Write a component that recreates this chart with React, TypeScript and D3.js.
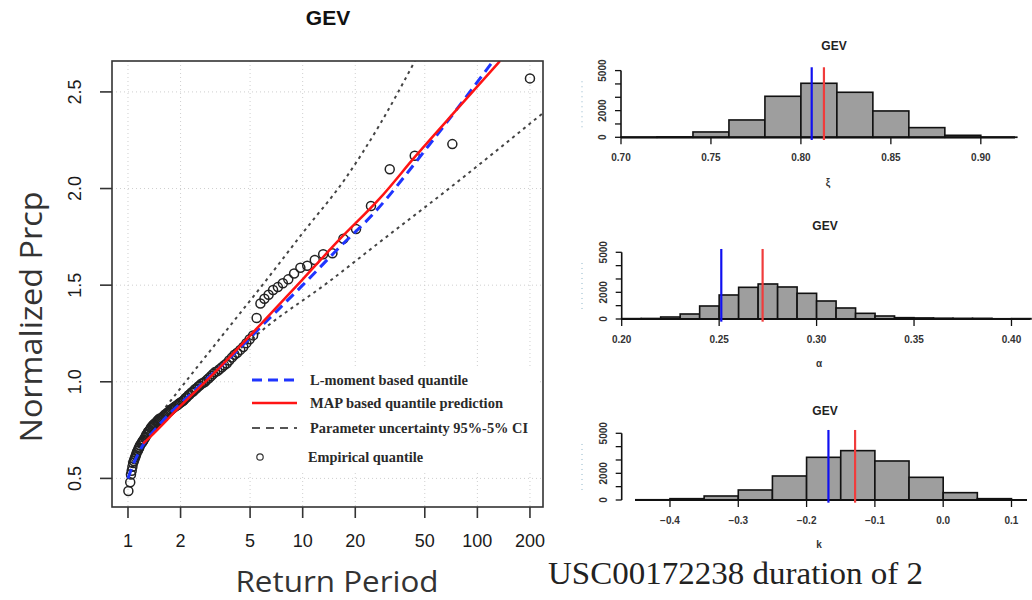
import React from 'react';
import * as d3 from 'd3';

// empirical quantiles: return period (years) and normalized precipitation
const empiricalT = [200, 71.9, 43.8, 31.5, 24.6, 20.2, 17.1, 14.8, 13.1, 11.73, 10.62, 9.7, 8.93, 8.27, 7.7, 7.21, 6.77, 6.38, 6.04, 5.73, 5.45, 5.2, 4.97, 4.76, 4.57, 4.39, 4.22, 4.07, 3.93, 3.79, 3.67, 3.55, 3.45, 3.34, 3.25, 3.15, 3.07, 2.99, 2.91, 2.83, 2.76, 2.7, 2.63, 2.57, 2.52, 2.46, 2.41, 2.36, 2.31, 2.26, 2.22, 2.17, 2.13, 2.09, 2.06, 2.02, 1.98, 1.95, 1.92, 1.88, 1.85, 1.82, 1.79, 1.76, 1.74, 1.71, 1.68, 1.66, 1.64, 1.61, 1.59, 1.57, 1.55, 1.52, 1.5, 1.48, 1.47, 1.45, 1.43, 1.41, 1.39, 1.38, 1.36, 1.35, 1.33, 1.32, 1.3, 1.29, 1.27, 1.26, 1.25, 1.23, 1.22, 1.21, 1.2, 1.19, 1.17, 1.16, 1.15, 1.14, 1.13, 1.12, 1.11, 1.1, 1.09, 1.08, 1.07, 1.06, 1.05, 1.04, 1.03, 1.005];
const empiricalQ = [2.57, 2.23, 2.17, 2.1, 1.91, 1.79, 1.74, 1.665, 1.66, 1.63, 1.6, 1.59, 1.56, 1.53, 1.51, 1.49, 1.475, 1.45, 1.43, 1.405, 1.33, 1.24, 1.22, 1.2, 1.18, 1.165, 1.15, 1.14, 1.125, 1.11, 1.095, 1.085, 1.075, 1.065, 1.055, 1.05, 1.04, 1.03, 1.02, 1.01, 1.0, 0.995, 0.99, 0.98, 0.975, 0.965, 0.96, 0.95, 0.945, 0.935, 0.93, 0.92, 0.915, 0.905, 0.9, 0.895, 0.89, 0.885, 0.88, 0.875, 0.87, 0.865, 0.86, 0.855, 0.85, 0.845, 0.84, 0.835, 0.83, 0.825, 0.82, 0.815, 0.81, 0.81, 0.805, 0.8, 0.795, 0.79, 0.785, 0.78, 0.775, 0.77, 0.765, 0.76, 0.75, 0.745, 0.74, 0.73, 0.725, 0.715, 0.71, 0.7, 0.695, 0.69, 0.685, 0.68, 0.67, 0.66, 0.655, 0.645, 0.64, 0.63, 0.62, 0.61, 0.6, 0.59, 0.58, 0.56, 0.54, 0.52, 0.48, 0.435];

// fitted curves: [return period, quantile]
const lmomentCurve: [number, number][] = [[1.0, 0.5], [1.08, 0.58], [1.17, 0.645], [1.52, 0.78], [2.37, 0.95], [4, 1.14], [6, 1.3], [10, 1.5], [16, 1.69], [25.4, 1.87], [52.4, 2.22], [123, 2.66]];
const mapCurve: [number, number][] = [[1.22, 0.68], [1.34, 0.715], [2, 0.875], [3, 1.03], [5.45, 1.275], [10, 1.53], [16, 1.73], [27.7, 1.95], [44.5, 2.17], [80, 2.43], [134.7, 2.66]];
const ciUpper: [number, number][] = [[1.55, 0.84], [2.27, 1.03], [4, 1.31], [6, 1.51], [10, 1.77], [17.5, 2.05], [28, 2.34], [43.9, 2.66]];
const ciLower: [number, number][] = [[1.43, 0.75], [2, 0.88], [3.36, 1.077], [6.2, 1.284], [13.7, 1.509], [27.7, 1.724], [66.6, 1.99], [237, 2.39]];

const returnTicks = [1, 2, 5, 10, 20, 50, 100, 200];
const prcpTicks = [0.5, 1.0, 1.5, 2.0, 2.5];

const legendLabels = ['L-moment based quantile', 'MAP based quantile prediction', 'Parameter uncertainty 95%-5% CI', 'Empirical quantile'];

// posterior samples histograms
const xiTicks = [0.7, 0.75, 0.8, 0.85, 0.9];
const xiCounts = [5, 30, 400, 1300, 3075, 4050, 3375, 1975, 725, 150, 10];
const alphaTicks = [0.2, 0.25, 0.3, 0.35, 0.4];
const alphaCounts = [30, 40, 150, 375, 975, 1800, 2375, 2625, 2400, 1925, 1350, 825, 425, 225, 100, 80, 60, 50, 50, 20, 30];
const kTicks = [-0.4, -0.3, -0.2, -0.1, 0.0, 0.1];
const kCounts = [20, 100, 300, 750, 1800, 3200, 3700, 2925, 1700, 550, 100];
const countTicks = [0, 1000, 2000, 3000, 4000, 5000];
const countLabels = ['0', '2000', '5000'];

const SANS = 'Liberation Sans, Arial, sans-serif';
const SERIF = 'Liberation Serif, Times New Roman, serif';

interface HistProps {
  counts: number[];
  binStart: number;
  binWidth: number;
  ticks: number[];
  digits: number;
  lmom: number;
  map: number;
  domain: [number, number];
  range: [number, number];
  baseY: number;
  yAxisX: number;
  titleX: number;
  titleY: number;
  labelY: number;
  xlab: string;
}

const Hist: React.FC<HistProps> = (p) => {
  const x = d3.scaleLinear().domain(p.domain).range(p.range);
  const y = d3.scaleLinear().domain([0, 5000]).range([p.baseY, p.baseY - 66.7]);
  const fmt = d3.format(`.${p.digits}f`);
  return (
    <g>
      <text x={p.titleX} y={p.titleY} textAnchor="middle" fontFamily={SANS} fontWeight="bold" fontSize={12} fill="#222">GEV</text>
      {p.counts.map((c, i) => {
        const a = p.binStart + i * p.binWidth;
        return (
          <rect key={i} x={x(a)} y={y(c)} width={x(a + p.binWidth) - x(a)} height={y(0) - y(c)}
            fill="#9e9e9e" stroke="#111" strokeWidth={1.6} />
        );
      })}
      <line x1={p.range[0]} x2={p.range[1]} y1={y(0)} y2={y(0)} stroke="#111" strokeWidth={2.2} />
      {p.ticks.map((t) => (
        <g key={t}>
          <line x1={x(t)} x2={x(t)} y1={y(0)} y2={y(0) + 7} stroke="#111" strokeWidth={1.3} />
          <text x={x(t)} y={y(0) + 24} textAnchor="middle" fontFamily={SANS} fontWeight="bold" fontSize={10} fill="#333">{fmt(t)}</text>
        </g>
      ))}
      <line x1={p.yAxisX} x2={p.yAxisX} y1={y(0)} y2={y(5000)} stroke="#111" strokeWidth={1.6} />
      {countTicks.map((t) => (
        <line key={t} x1={p.yAxisX - 6} x2={p.yAxisX} y1={y(t)} y2={y(t)} stroke="#111" strokeWidth={1.3} />
      ))}
      {countLabels.map((l) => (
        <text key={l} transform={`translate(${p.yAxisX - 15},${y(+l)}) rotate(-90)`} textAnchor="middle"
          fontFamily={SANS} fontWeight="bold" fontSize={10} fill="#333">{l}</text>
      ))}
      <line x1={582} x2={582} y1={y(4200)} y2={y(700)} stroke="#8fb4c8" strokeWidth={1} strokeDasharray="1,4" />
      <line x1={x(p.lmom)} x2={x(p.lmom)} y1={y(5250)} y2={y(-200)} stroke="#1010f0" strokeWidth={2.2} />
      <line x1={x(p.map)} x2={x(p.map)} y1={y(5250)} y2={y(-200)} stroke="#f03c3c" strokeWidth={2.2} />
      <text x={p.titleX - 6} y={p.labelY} textAnchor="middle" fontFamily={SANS} fontWeight="bold" fontSize={10} fill="#333">{p.xlab}</text>
    </g>
  );
};

const App: React.FC = () => {
  const x = d3.scaleLog().domain([0.81, 237.5]).range([112, 543]);
  const y = d3.scaleLinear().domain([0.352, 2.66]).range([507, 61]);
  const line = d3.line<[number, number]>().x((d) => x(d[0])).y((d) => y(d[1])).curve(d3.curveMonotoneX);

  const legendRows = [380, 403, 428, 457];
  const legendLengths = [158, 193, 218, 115];

  return (
    <svg width={1032} height={600} style={{ position: 'absolute', left: 0, top: 0, background: '#fff' }}>
      <defs>
        <clipPath id="plotClip">
          <rect x={112} y={61} width={431} height={446} />
        </clipPath>
      </defs>
      <text x={328} y={25} textAnchor="middle" fontFamily={SANS} fontWeight="bold" fontSize={21} fill="#111">GEV</text>

      {/* grid */}
      {returnTicks.map((t) => (
        <line key={`gx${t}`} x1={x(t)} x2={x(t)} y1={61} y2={507} stroke="#cfcfcf" strokeDasharray="1,3" />
      ))}
      {prcpTicks.map((t) => (
        <line key={`gy${t}`} x1={112} x2={543} y1={y(t)} y2={y(t)} stroke="#cfcfcf" strokeDasharray="1,3" />
      ))}

      <g clipPath="url(#plotClip)">
        <path d={line(ciUpper) || ''} fill="none" stroke="#444" strokeWidth={2} strokeDasharray="3,4" />
        <path d={line(ciLower) || ''} fill="none" stroke="#444" strokeWidth={2} strokeDasharray="3,4" />
        {empiricalT.map((t, i) => (
          <circle key={i} cx={x(t)} cy={y(empiricalQ[i])} r={4.5} fill="none" stroke="#222" strokeWidth={1.5} />
        ))}
        <path d={line(lmomentCurve) || ''} fill="none" stroke="#1f35ff" strokeWidth={3} strokeDasharray="10,6" />
        <path d={line(mapCurve) || ''} fill="none" stroke="#ff1414" strokeWidth={2.5} />
      </g>

      {/* legend */}
      <rect x={233} y={367} width={304} height={104} fill="#fff" />
      <line x1={252} x2={297} y1={legendRows[0]} y2={legendRows[0]} stroke="#1f35ff" strokeWidth={3} strokeDasharray="10,6" />
      <line x1={252} x2={297} y1={legendRows[1]} y2={legendRows[1]} stroke="#ff1414" strokeWidth={2.5} />
      <line x1={252} x2={297} y1={legendRows[2]} y2={legendRows[2]} stroke="#555" strokeWidth={2} strokeDasharray="8,6" />
      <circle cx={260} cy={legendRows[3]} r={3.2} fill="none" stroke="#333" strokeWidth={1.2} />
      {legendLabels.map((l, i) => (
        <text key={l} x={i === 3 ? 308 : 310} y={legendRows[i] + 5} fontFamily={SERIF} fontWeight="bold" fontSize={15}
          fill="#2a2a2a" textLength={legendLengths[i]} lengthAdjust="spacingAndGlyphs">{l}</text>
      ))}

      {/* frame and axes */}
      <rect x={112} y={61} width={431} height={446} fill="none" stroke="#333" strokeWidth={1.6} />
      {returnTicks.map((t) => (
        <g key={`tx${t}`}>
          <line x1={x(t)} x2={x(t)} y1={507} y2={518} stroke="#333" strokeWidth={1.6} />
          <text x={x(t)} y={547} textAnchor="middle" fontFamily={SANS} fontSize={18} fill="#1a1a1a">{t}</text>
        </g>
      ))}
      {prcpTicks.map((t) => (
        <g key={`ty${t}`}>
          <line x1={100} x2={112} y1={y(t)} y2={y(t)} stroke="#333" strokeWidth={1.6} />
          <text transform={`translate(81,${y(t)}) rotate(-90)`} textAnchor="middle" fontFamily={SANS} fontSize={18} fill="#1a1a1a">
            {t.toFixed(1)}
          </text>
        </g>
      ))}
      <text transform="translate(42,317) rotate(-90)" textAnchor="middle" fontFamily="Open Sans, sans-serif" fontSize={31}
        fill="#333" textLength={251} lengthAdjust="spacingAndGlyphs">Normalized Prcp</text>
      <text x={337} y={592} textAnchor="middle" fontFamily="Open Sans, sans-serif" fontSize={30} fill="#333"
        textLength={203} lengthAdjust="spacingAndGlyphs">Return Period</text>

      {/* histograms */}
      <Hist counts={xiCounts} binStart={0.7} binWidth={0.02} ticks={xiTicks} digits={2} lmom={0.806} map={0.8128}
        domain={[0.7, 0.919]} range={[621, 1015]} baseY={137.3} yAxisX={621} titleX={834} titleY={50} labelY={186} xlab="ξ" />
      <Hist counts={alphaCounts} binStart={0.2} binWidth={0.01} ticks={alphaTicks} digits={2} lmom={0.2511} map={0.2723}
        domain={[0.2, 0.4095]} range={[621.7, 1030]} baseY={319} yAxisX={621.7} titleX={825} titleY={230} labelY={367} xlab="α" />
      <Hist counts={kCounts} binStart={-0.45} binWidth={0.05} ticks={kTicks} digits={1} lmom={-0.168} map={-0.129}
        domain={[-0.4512, 0.1227]} range={[635, 1027]} baseY={500} yAxisX={621.7} titleX={825} titleY={415} labelY={548} xlab="k" />

      <text x={548} y={584} fontFamily={SERIF} fontSize={32} fill="#222" textLength={375} lengthAdjust="spacingAndGlyphs">
        USC00172238 duration of 2
      </text>
    </svg>
  );
};

export default App;
